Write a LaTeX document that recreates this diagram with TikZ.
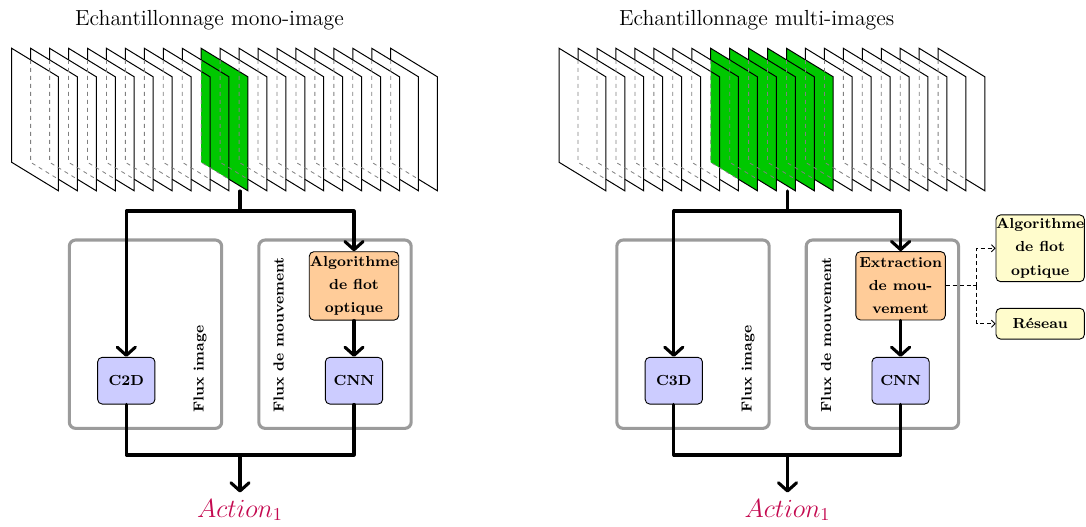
\documentclass[tikz,border=0pt]{standalone}
\usetikzlibrary{arrows.meta}
\definecolor{fgreen}{RGB}{0,200,0}
\definecolor{actcol}{RGB}{196,10,80}
\definecolor{boxgray}{RGB}{155,155,155}
\begin{document}
\begin{tikzpicture}[x=0.55pt,y=-0.55pt,
  frameline/.style={line width=0.55pt,black},
  hiddenline/.style={line width=0.45pt,gray,dash pattern=on 2.2pt off 2.2pt},
  conn/.style={line width=1.7pt,black,line cap=round,line join=round},
  connarrow/.style={conn,-{Straight Barb[length=4.5pt,width=10pt,line cap=round,line join=round]}},
  sidearrow/.style={line width=0.45pt,black,dash pattern=on 2.2pt off 1.6pt,-{Straight Barb[length=2pt,width=4pt]}},
  sideline/.style={line width=0.45pt,black,dash pattern=on 2.2pt off 1.6pt},
  graybox/.style={draw=boxgray,line width=1.7pt,rounded corners=3.5pt,minimum width=83.8pt,minimum height=103.6pt,inner sep=0pt},
  nodebox/.style={draw,line width=0.5pt,rounded corners=2.5pt,inner sep=0pt,align=center,
    font=\footnotesize\bfseries\linespread{1.34}\selectfont},
  smallbox/.style={nodebox,fill=blue!20,minimum width=31.5pt,minimum height=25.7pt},
  algbox/.style={nodebox,fill=orange!40,minimum width=49.2pt,minimum height=37.6pt},
  sidebox/.style={nodebox,fill=yellow!20,minimum width=48.6pt},
  fluxlabel/.style={rotate=90,anchor=west,inner sep=0pt,font=\footnotesize\bfseries},
  titlelabel/.style={font=\large,inner sep=0pt},
  actlabel/.style={text=actcol,font=\Large,inner sep=0pt,anchor=base}]
\useasboundingbox (0,0) rectangle (1086,526);
\def\fw{46.7}\def\fd{28.5}\def\ft{48.3}\def\fb{162.3}\def\fh{114}\def\fs{18.95}
% ---------- green fills ----------
\foreach \ox/\i in {0/10, 547.4/8, 547.4/9, 547.4/10, 547.4/11, 547.4/12}{
  \pgfmathsetmacro\l{\ox+11.7+\i*\fs}
  \fill[fgreen] (\l,\ft) -- ++(\fw,\fd) -- ++(0,\fh) -- (\l,\fb) -- cycle;
}
% ---------- frame stacks ----------
\foreach \ox in {0,547.4}{
  \pgfmathsetmacro\l{\ox+11.7}
  \draw[frameline] (\l,\fb) -- (\l,\ft) -- ++(\fw,\fd) -- ++(0,\fh) -- cycle;
  \foreach \i in {1,...,20}{
    \pgfmathsetmacro\l{\ox+11.7+\i*\fs}
    \pgfmathsetmacro\ya{\ft+\fd*\fs/\fw}
    \pgfmathsetmacro\xb{\l+\fw-\fs}
    \pgfmathsetmacro\yb{\fb+\fd*(\fw-\fs)/\fw}
    \draw[hiddenline] (\l,\ya) -- (\l,\fb) -- (\xb,\yb);
    \draw[frameline] (\l,\ya) -- (\l,\ft) -- ++(\fw,\fd) -- ++(0,\fh) -- (\xb,\yb);
  }
}
% ---------- titles ----------
\node[titlelabel] (title1) at (209.5,20) {Echantillonnage mono-image};
\node[titlelabel] (title2) at (756.7,20) {Echantillonnage multi-images};
% ---------- left panel ----------
\node[graybox] (gimg1) at (145.5,334.2) {};
\node[graybox] (gmov1) at (335,334.2) {};
\node[smallbox] (c2d) at (126.3,380.7) {C2D};
\node[algbox] (alg1) at (354,285.9) {Algorithme\\de flot\\optique};
\node[smallbox] (cnn1) at (354,380.7) {CNN};
\node[fluxlabel] (fi1) at (200,413) {Flux image};
\node[fluxlabel] (fm1) at (278.5,413) {Flux de mouvement};
\coordinate (top1) at (240,191);
\coordinate (split1) at (240,211);
\coordinate (join1) at (240,455);
\coordinate (tip1) at (240,492.5);
\node[actlabel] (act1) at (240,517) {$Action_1$};
\draw[conn] (top1) -- (split1);
\draw[connarrow] (split1) -| (c2d);
\draw[connarrow] (split1) -| (alg1);
\draw[connarrow] (alg1) -- (cnn1);
\draw[conn] (c2d.south) |- (join1);
\draw[conn] (cnn1.south) |- (join1);
\draw[connarrow] (join1) -- (tip1);
% ---------- right panel ----------
\node[graybox] (gimg2) at (693,334.2) {};
\node[graybox] (gmov2) at (882.4,334.2) {};
\node[smallbox] (c3d) at (673.8,380.7) {C3D};
\node[algbox] (ext) at (900.6,285.8) {Extraction\\de mou-\\vement};
\node[smallbox] (cnn2) at (900.6,380.7) {CNN};
\node[fluxlabel] (fi2) at (748,413) {Flux image};
\node[fluxlabel] (fm2) at (826,413) {Flux de mouvement};
\node[sidebox,minimum height=36.7pt] (alg2) at (1040.2,248.3) {Algorithme\\de flot\\optique};
\node[sidebox,minimum height=16.9pt] (res) at (1040.2,323.7) {Réseau};
\coordinate (top2) at (787.5,191);
\coordinate (split2) at (787.5,211);
\coordinate (join2) at (787.5,455);
\coordinate (tip2) at (787.5,492.5);
\coordinate (fork) at (976.7,285.8);
\node[actlabel] (act2) at (787.5,517) {$Action_1$};
\draw[conn] (top2) -- (split2);
\draw[connarrow] (split2) -| (c3d);
\draw[connarrow] (split2) -| (ext);
\draw[connarrow] (ext) -- (cnn2);
\draw[conn] (c3d.south) |- (join2);
\draw[conn] (cnn2.south) |- (join2);
\draw[connarrow] (join2) -- (tip2);
\draw[sideline] (ext.east) -- (fork);
\draw[sidearrow] (fork) |- (alg2.west);
\draw[sidearrow] (fork) |- (res.west);
\end{tikzpicture}
\end{document}
